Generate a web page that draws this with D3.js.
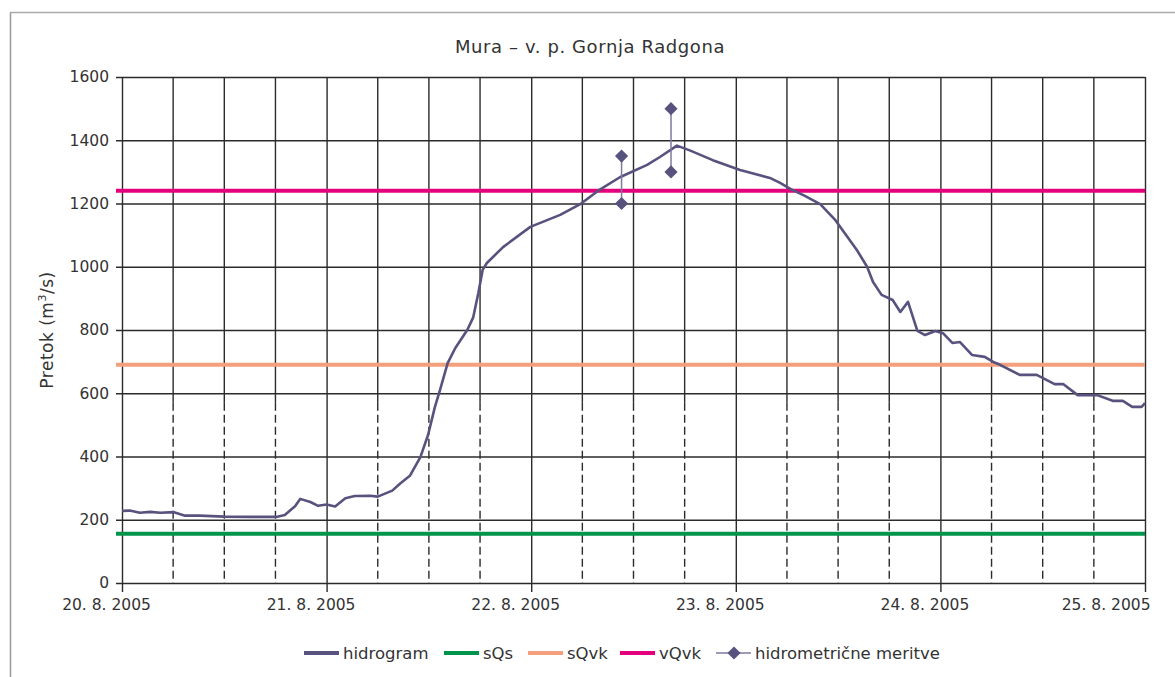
<!DOCTYPE html>
<html>
<head>
<meta charset="utf-8">
<script src="https://cdn.jsdelivr.net/npm/d3@7"></script>
<style>
  html, body { margin: 0; padding: 0; background: #fff; }
  svg { display: block; }
  text { font-family: "DejaVu Sans", sans-serif; fill: #333; }
</style>
</head>
<body>
<svg id="chart" width="1175" height="677"></svg>
<script>
// ---- data ----
const title = "Mura – v. p. Gornja Radgona";
const dayLabels = ["20. 8. 2005", "21. 8. 2005", "22. 8. 2005", "23. 8. 2005", "24. 8. 2005", "25. 8. 2005"];
const yTicks = [0, 200, 400, 600, 800, 1000, 1200, 1400, 1600];
// hours since 20. 8. 2005 00:00
const hydroHours = [0, 0.9, 2.1, 3.3, 4.5, 6.1, 7.4, 9.1, 12.0, 15.0, 18.1, 19.1, 20.3, 20.9, 22.1, 23.0, 24.0, 25.0, 26.2, 27.3, 29.1, 30.0, 31.7, 32.6, 33.8, 35.0, 35.9, 36.7, 37.3, 38.2, 39.1, 40.5, 41.2, 41.8, 42.3, 42.8, 44.7, 47.9, 51.4, 53.7, 56.1, 58.4, 61.6, 63.1, 65.1, 66.6, 69.3, 72.5, 76.0, 77.2, 78.4, 80.1, 81.9, 83.6, 86.2, 87.4, 88.1, 89.1, 90.4, 91.3, 92.2, 93.3, 94.2, 95.4, 96.3, 97.4, 98.3, 99.7, 101.2, 102.2, 103.0, 105.3, 107.3, 109.4, 110.4, 112.1, 114.4, 116.2, 117.4, 118.5, 119.6, 120.0];
const hydroFlow  = [228, 229, 222, 225, 222, 224, 213, 213, 210, 209, 209, 215, 243, 266, 256, 244, 248, 242, 268, 275, 276, 273, 292, 314, 340, 398, 468, 556, 610, 695, 743, 800, 840, 917, 990, 1012, 1062, 1126, 1164, 1197, 1245, 1283, 1322, 1347, 1383, 1368, 1337, 1306, 1281, 1265, 1246, 1224, 1198, 1150, 1053, 1000, 952, 911, 895, 857, 889, 797, 784, 797, 790, 759, 762, 721, 715, 699, 690, 658, 658, 629, 629, 594, 594, 576, 576, 557, 557, 569];
// hydrometric measurements (pairs at same time)
const measHours = [58.6, 58.6, 64.4, 64.4];
const measFlow  = [1350, 1200, 1500, 1300];
const measGroup = [0, 0, 1, 1];
// reference discharges
const refNames  = ["sQs", "sQvk", "vQvk"];
const refValues = [156, 690, 1240];
const refColors = ["#00954a", "#f4a07e", "#e4007c"];
const hydroColor = "#57527e";

// ---- layout ----
const svg = d3.select("#chart");
const L = 122, R = 1145, T = 77, B = 583;
const x = d3.scaleLinear().domain([0, 120]).range([L, R]);
const y = d3.scaleLinear().domain([0, 1600]).range([B, T]);
const gridColor = "#2b2b2b";

// outer frame
svg.append("line").attr("x1", 10.5).attr("x2", 10.5).attr("y1", 12).attr("y2", 677).attr("stroke", "#999").attr("stroke-width", 1.5);
svg.append("line").attr("x1", 10).attr("x2", 1175).attr("y1", 12.5).attr("y2", 12.5).attr("stroke", "#aaa").attr("stroke-width", 1.5);

// title
svg.append("text").attr("x", 590).attr("y", 53).attr("text-anchor", "middle")
  .style("font-size", "18px").style("letter-spacing", "0.6px").text(title);

// horizontal grid + y axis
const yAxis = d3.axisLeft(y).tickValues(yTicks).tickSize(R - L + 6).tickPadding(7).tickFormat(d3.format("d"));
const gy = svg.append("g").attr("transform", `translate(${R},0)`).call(yAxis);
gy.select(".domain").remove();
gy.selectAll(".tick line").attr("stroke", gridColor).attr("stroke-width", 1.4);
gy.selectAll(".tick text").style("font-size", "15.5px").attr("fill", "#333");

// vertical grid: minor every 6 h
const minorHours = d3.range(6, 120, 6).filter(h => h % 24 !== 0);
const splitVal = 570;
svg.append("g").selectAll("line").data(minorHours).join("line")
  .attr("x1", d => x(d)).attr("x2", d => x(d)).attr("y1", y(1600)).attr("y2", y(splitVal))
  .attr("stroke", gridColor).attr("stroke-width", 1.4);
svg.append("g").selectAll("line").data(minorHours).join("line")
  .attr("x1", d => x(d)).attr("x2", d => x(d)).attr("y1", y(splitVal)).attr("y2", y(0))
  .attr("stroke", gridColor).attr("stroke-width", 1.4).attr("stroke-dasharray", "8,4");

// major day lines + x axis
const xAxis = d3.axisBottom(x).tickValues(d3.range(0, 121, 24)).tickSize(-(B - T)).tickPadding(16)
  .tickFormat((d, i) => dayLabels[i]);
const gx = svg.append("g").attr("transform", `translate(0,${B})`).call(xAxis);
gx.select(".domain").remove();
gx.selectAll(".tick line").attr("stroke", gridColor).attr("stroke-width", 1.4).attr("y1", 9);
gx.selectAll(".tick text").style("font-size", "15.5px").attr("fill", "#333")
  .attr("dx", (d, i) => i === dayLabels.length - 1 ? 5 : -16)
  .attr("text-anchor", (d, i) => i === dayLabels.length - 1 ? "end" : "middle");

// reference lines
svg.append("g").selectAll("line").data(refValues).join("line")
  .attr("x1", L - 6).attr("x2", R).attr("y1", d => y(d)).attr("y2", d => y(d))
  .attr("stroke", (d, i) => refColors[i]).attr("stroke-width", 4);

// hydrograph
const pts = hydroHours.map((h, i) => [h, hydroFlow[i]]);
svg.append("path").datum(pts)
  .attr("d", d3.line().x(d => x(d[0])).y(d => y(d[1])))
  .attr("fill", "none").attr("stroke", hydroColor).attr("stroke-width", 2.6).attr("stroke-linejoin", "round");

// measurements
const meas = measHours.map((h, i) => ({h, v: measFlow[i], g: measGroup[i]}));
const groups = d3.groups(meas, d => d.g);
svg.append("g").selectAll("path").data(groups).join("path")
  .attr("d", d => d3.line().x(p => x(p.h)).y(p => y(p.v))(d[1]))
  .attr("fill", "none").attr("stroke", "#7c7aa0").attr("stroke-width", 1.5);
const diamond = d3.symbol().type(d3.symbolDiamond2).size(110);
svg.append("g").selectAll("path").data(meas).join("path")
  .attr("d", diamond).attr("transform", d => `translate(${x(d.h)},${y(d.v)})`)
  .attr("fill", hydroColor);

// legend
const legendItems = [
  {name: "hidrogram", color: hydroColor, x0: 304, marker: false},
  {name: refNames[0], color: refColors[0], x0: 444, marker: false},
  {name: refNames[1], color: refColors[1], x0: 528, marker: false},
  {name: refNames[2], color: refColors[2], x0: 620, marker: false},
  {name: "hidrometrične meritve", color: hydroColor, x0: 716, marker: true}
];
const ly = 653;
const lg = svg.append("g");
legendItems.forEach(it => {
  lg.append("line").attr("x1", it.x0).attr("x2", it.x0 + 35).attr("y1", ly).attr("y2", ly)
    .attr("stroke", it.marker ? "#7c7aa0" : it.color).attr("stroke-width", it.marker ? 1.5 : 4);
  if (it.marker) {
    lg.append("path").attr("d", diamond).attr("transform", `translate(${it.x0 + 18},${ly})`).attr("fill", it.color);
  }
  lg.append("text").attr("x", it.x0 + 39).attr("y", ly + 6).style("font-size", "16.5px").text(it.name);
});

// y axis label
const yl = svg.append("text").attr("transform", "translate(53,330) rotate(-90)").attr("text-anchor", "middle")
  .style("font-size", "17px").style("letter-spacing", "0.5px");
yl.append("tspan").text("Pretok (m");
yl.append("tspan").attr("dy", -7).style("font-size", "11px").text("3");
yl.append("tspan").attr("dy", 7).text("/s)");
</script>
</body>
</html>
